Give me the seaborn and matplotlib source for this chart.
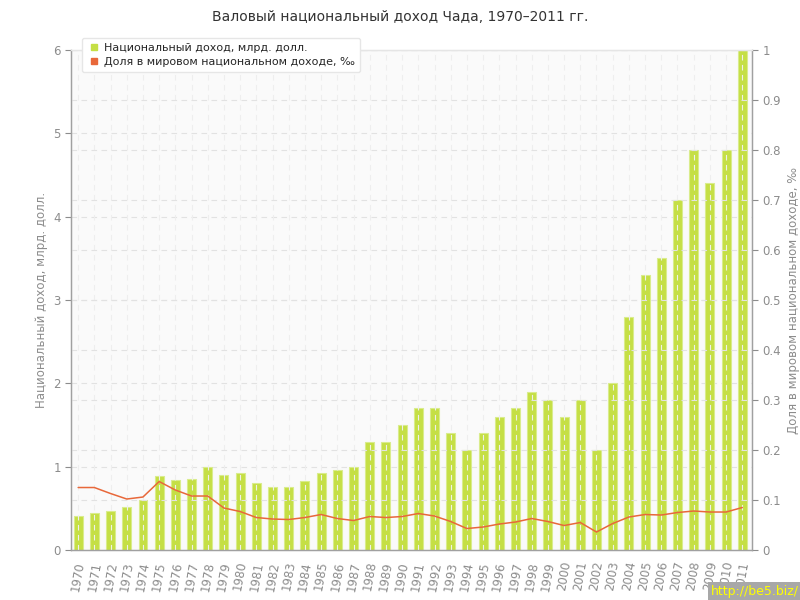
import numpy as np
import pandas as pd
import seaborn as sns
import matplotlib.pyplot as plt
from matplotlib.lines import Line2D

years = list(range(1970, 2012))
income = [0.41, 0.45, 0.47, 0.52, 0.60, 0.89, 0.84, 0.85, 1.00, 0.90,
          0.93, 0.80, 0.76, 0.76, 0.83, 0.93, 0.96, 1.00, 1.30, 1.30,
          1.50, 1.70, 1.70, 1.40, 1.20, 1.40, 1.60, 1.70, 1.90, 1.80,
          1.60, 1.80, 1.20, 2.00, 2.80, 3.30, 3.50, 4.20, 4.80, 4.40,
          4.80, 6.00]
share = [0.125, 0.125, 0.113, 0.102, 0.106, 0.137, 0.120, 0.108, 0.108, 0.084,
         0.077, 0.065, 0.062, 0.061, 0.065, 0.071, 0.063, 0.059, 0.067, 0.065,
         0.067, 0.073, 0.068, 0.057, 0.043, 0.046, 0.052, 0.056, 0.063, 0.057,
         0.049, 0.055, 0.036, 0.053, 0.066, 0.071, 0.070, 0.075, 0.078, 0.076,
         0.076, 0.085]

df = pd.DataFrame({'year': years, 'income': income, 'share': share})

sns.set_theme(style='white')
plt.rcParams['font.family'] = ['DejaVu Sans']
grey = '#8c8c8c'
bar_col = '#c5df45'
line_col = '#e8683a'

fig = plt.figure(figsize=(8, 6), dpi=100)
ax = fig.add_axes([0.089, 0.0833, 0.851, 0.8333])
ax.set_facecolor('#fafafa')

sns.barplot(data=df, x='year', y='income', native_scale=True, ax=ax,
            color=bar_col, width=0.55, edgecolor='#d9ec8c', linewidth=0.8,
            saturation=1)
ax.set_xlim(1969.57, 2011.6)
ax.set_ylim(0, 6)
ax.set_yticks(range(0, 7))
ax.set_xticks(years)
ax.set_xticklabels([str(y) for y in years], rotation=80, fontsize=8.5,
                   color=grey)
ax.tick_params(axis='y', labelsize=8.5, colors=grey, length=4, width=0.8)
ax.tick_params(axis='x', length=4, width=0.8, colors='#b0b0b0', labelcolor=grey)
ax.set_xlabel('')
ax.set_ylabel('Национальный доход, млрд. долл.', fontsize=8.5, color=grey)

ax2 = ax.twinx()
sns.lineplot(data=df, x='year', y='share', ax=ax2, color=line_col, lw=1.1)
ax2.set_ylim(0, 1)
ax2.set_yticks(np.arange(0, 1.01, 0.1))
ax2.set_yticklabels(['0', '0.1', '0.2', '0.3', '0.4', '0.5', '0.6', '0.7',
                     '0.8', '0.9', '1'])
ax2.tick_params(axis='y', labelsize=8.5, colors=grey, length=4, width=0.8)
ax2.set_xlim(1969.57, 2011.6)
ax2.set_ylabel('Доля в мировом национальном доходе, ‰', fontsize=8.5,
               color=grey)

# grid: left ticks, right ticks, and vertical lines at every year
gkw = dict(color='#e2e2e2', lw=0.8, ls=(0, (5, 4)), zorder=0.5)
for v in range(1, 7):
    ax.axhline(v, **gkw)
for v in np.arange(0.1, 1.01, 0.1):
    ax2.axhline(v, **gkw)
for y in years:
    ax.axvline(y, color='#eeeeee', lw=0.8, ls=(0, (5, 4)), zorder=3)

for a in (ax, ax2):
    for s in a.spines.values():
        s.set_color('#a0a0a0')
        s.set_linewidth(0.9)
    a.spines['top'].set_color('#e5e5e5')

handles = [Line2D([], [], marker='s', ls='', color=bar_col, markersize=4.5),
           Line2D([], [], marker='s', ls='', color=line_col, markersize=4.5)]
leg = ax2.legend(handles, ['Национальный доход, млрд. долл.',
                           'Доля в мировом национальном доходе, ‰'],
                 loc='upper left', bbox_to_anchor=(0.008, 1.036), fontsize=8,
                 frameon=True, fancybox=True, handletextpad=0.3,
                 borderpad=0.45, labelspacing=0.4, handlelength=1.2)
leg.get_frame().set_edgecolor('#e6e6e6')
leg.get_frame().set_facecolor('white')
leg.get_frame().set_alpha(1)
leg.set_zorder(10)

fig.text(0.5, 0.972, 'Валовый национальный доход Чада, 1970–2011 гг.',
         ha='center', va='center', fontsize=10, color='#333333')
fig.text(0.998, 0.003, 'http://be5.biz/', ha='right', va='bottom',
         fontsize=9, color='#ffff00',
         bbox=dict(facecolor='#a8a8a8', edgecolor='none', pad=2))

fig.savefig('out.png', dpi=100)
